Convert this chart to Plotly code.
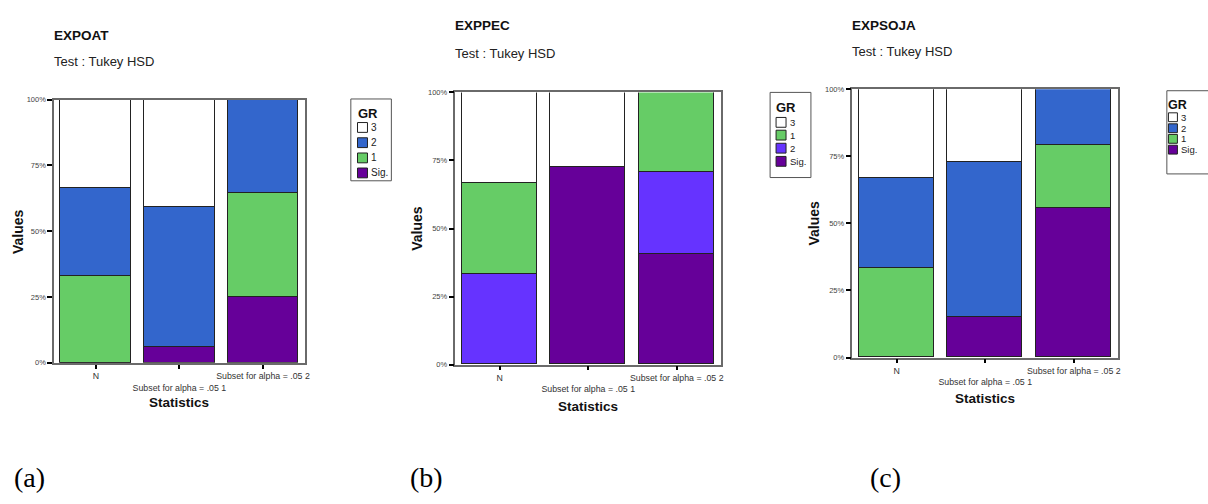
import plotly.graph_objects as go

# ---- data (percent of each bar) ----
categories = ["N", "Subset for alpha = .05 1", "Subset for alpha = .05 2"]
tick_text = ["N", "<br>Subset for alpha = .05 1", "Subset for alpha = .05 2"]

# EXPOAT (stack order bottom -> top: Sig., 1, 2, 3)
expoat_sig = [0.0, 6.1, 25.1]
expoat_g1 = [33.3, 0.0, 39.6]
expoat_g2 = [33.4, 53.3, 35.3]
expoat_g3 = [33.3, 40.6, 0.0]

# EXPPEC (stack order bottom -> top: Sig., 2, 1, 3)
exppec_sig = [0.0, 72.6, 40.5]
exppec_g2 = [33.3, 0.0, 30.3]
exppec_g1 = [33.4, 0.0, 29.2]
exppec_g3 = [33.3, 27.4, 0.0]

# EXPSOJA (stack order bottom -> top: Sig., 1, 2, 3)
expsoja_sig = [0.0, 15.0, 55.6]
expsoja_g1 = [33.3, 0.0, 23.4]
expsoja_g2 = [33.4, 57.8, 21.0]
expsoja_g3 = [33.3, 27.2, 0.0]

y_ticks = [0, 25, 50, 75, 100]
y_tick_text = ["0%", "25%", "50%", "75%", "100%"]

# ---- styling ----
W, H = 1208, 504
FONT = "Liberation Sans, Arial, Helvetica, sans-serif"
SERIF = "Liberation Serif, Times New Roman, serif"
C_WHITE = "#FFFFFF"
C_BLUE = "#3366CC"
C_GREEN = "#66CC66"
C_VIOLET = "#6633FF"
C_PURPLE = "#660099"
OUTLINE = "#222222"
BAR_W = 0.845


def fx(px):
    return px / W


def fy(py):
    return 1 - py / H


fig = go.Figure()

panels = [
    dict(ax="", title="EXPOAT", x0=54.3, x1=306, y0=97.3, y1=365.3,
         stack=[("Sig.", expoat_sig, C_PURPLE), ("1", expoat_g1, C_GREEN),
                ("2", expoat_g2, C_BLUE), ("3", expoat_g3, C_WHITE)],
         title_y=32.5, sub_y=58.5, vals_x=18, stat_y=406,
         legend=dict(box=(352.3, 96.7, 393, 180), gr_y=111, sq_x=359, sq=10,
                     rows=[125.7, 141.2, 156.7, 172], gr_size=13, lab_size=10)),
    dict(ax="2", title="EXPPEC", x0=457.3, x1=724, y0=90, y1=367.3,
         stack=[("Sig.", exppec_sig, C_PURPLE), ("2", exppec_g2, C_VIOLET),
                ("1", exppec_g1, C_GREEN), ("3", exppec_g3, C_WHITE)],
         title_y=22, sub_y=50, vals_x=418, stat_y=410,
         legend=dict(box=(773.3, 90, 814.3, 176.7), gr_y=105, sq_x=779.3, sq=10,
                     rows=[120.5, 133.5, 146.8, 160.2], gr_size=13, lab_size=9.5)),
    dict(ax="3", title="EXPSOJA", x0=856, x1=1122.7, y0=86.7, y1=360,
         stack=[("Sig.", expsoja_sig, C_PURPLE), ("1", expsoja_g1, C_GREEN),
                ("2", expsoja_g2, C_BLUE), ("3", expsoja_g3, C_WHITE)],
         title_y=22, sub_y=48.5, vals_x=817.5, stat_y=402,
         legend=dict(box=(1171.7, 88.3, 1215, 173), gr_y=103, sq_x=1173.3, sq=9,
                     rows=[115.3, 126.5, 137.3, 148.3], gr_size=12.5, lab_size=9.5)),
]

annotations = []
shapes = []

for p in panels:
    xa, ya = "x" + p["ax"], "y" + p["ax"]
    for name, vals, color in p["stack"]:
        fig.add_trace(go.Bar(
            x=categories, y=vals, name=name, width=BAR_W,
            marker=dict(color=color, line=dict(color=OUTLINE, width=1)),
            xaxis=xa, yaxis=ya, showlegend=False,
        ))

    axis_common = dict(
        showline=True, linecolor="#6a6a6a", linewidth=1.5, mirror=True,
        ticks="outside", tickcolor="#000000", tickwidth=2,
        showgrid=False, zeroline=False,
    )
    fig.layout["xaxis" + p["ax"]] = dict(
        axis_common, domain=[fx(p["x0"]), fx(p["x1"])], anchor=ya,
        type="category", range=[-0.5, 2.5],
        tickmode="array", tickvals=categories, ticktext=tick_text,
        tickangle=0, ticklen=4,
        tickfont=dict(family=FONT, size=8.8, color="#333333"),
    )
    fig.layout["yaxis" + p["ax"]] = dict(
        axis_common, domain=[fy(p["y1"]), fy(p["y0"])], anchor=xa,
        range=[0, 100], tickmode="array", tickvals=y_ticks,
        ticktext=y_tick_text, ticklen=5,
        tickfont=dict(family=FONT, size=7.5, color="#444444"),
    )

    # panel heading
    annotations.append(dict(
        text="<b>" + p["title"] + "</b>", x=fx(p["x0"] - 2), y=fy(p["title_y"]),
        xref="paper", yref="paper", xanchor="left", yanchor="middle",
        showarrow=False, font=dict(family=FONT, size=13.5, color="#111111"),
    ))
    annotations.append(dict(
        text="Test : Tukey HSD", x=fx(p["x0"] - 2), y=fy(p["sub_y"]),
        xref="paper", yref="paper", xanchor="left", yanchor="middle",
        showarrow=False, font=dict(family=FONT, size=13, color="#222222"),
    ))
    # axis titles
    annotations.append(dict(
        text="<b>Values</b>", x=fx(p["vals_x"]), y=fy((p["y0"] + p["y1"]) / 2),
        xref="paper", yref="paper", xanchor="center", yanchor="middle",
        textangle=-90, showarrow=False,
        font=dict(family=FONT, size=14, color="#111111"),
    ))
    annotations.append(dict(
        text="<b>Statistics</b>", x=fx((p["x0"] + p["x1"]) / 2), y=fy(p["stat_y"]),
        xref="paper", yref="paper", xanchor="center", yanchor="middle",
        showarrow=False, font=dict(family=FONT, size=13.5, color="#111111"),
    ))

    # legend box
    lg = p["legend"]
    bx0, by0, bx1, by1 = lg["box"]
    shapes.append(dict(type="rect", xref="paper", yref="paper",
                       x0=fx(bx0), x1=fx(bx1), y0=fy(by1), y1=fy(by0),
                       line=dict(color="#555555", width=1), fillcolor="white"))
    annotations.append(dict(
        text="<b>GR</b>", x=fx(lg["sq_x"] - 2), y=fy(lg["gr_y"]),
        xref="paper", yref="paper", xanchor="left", yanchor="middle",
        showarrow=False, font=dict(family=FONT, size=lg["gr_size"], color="#111111"),
    ))
    legend_items = list(reversed(p["stack"]))
    for (name, _, color), ry in zip(legend_items, lg["rows"]):
        s = lg["sq"]
        shapes.append(dict(type="rect", xref="paper", yref="paper",
                           x0=fx(lg["sq_x"]), x1=fx(lg["sq_x"] + s),
                           y0=fy(ry + s / 2), y1=fy(ry - s / 2),
                           line=dict(color="#222222", width=1), fillcolor=color))
        annotations.append(dict(
            text=name, x=fx(lg["sq_x"] + s + 1.5), y=fy(ry),
            xref="paper", yref="paper", xanchor="left", yanchor="middle",
            showarrow=False, font=dict(family=FONT, size=lg["lab_size"], color="#222222"),
        ))

# sub-figure captions
for label, cx in [("(a)", 30), ("(b)", 428), ("(c)", 889)]:
    annotations.append(dict(
        text=label, x=fx(cx), y=fy(482), xref="paper", yref="paper",
        xanchor="center", yanchor="middle", showarrow=False,
        font=dict(family=SERIF, size=28, color="#000000"),
    ))

fig.update_layout(
    width=W, height=H, margin=dict(l=0, r=0, t=0, b=0),
    paper_bgcolor="white", plot_bgcolor="white",
    barmode="stack", bargap=0, showlegend=False,
    annotations=annotations, shapes=shapes,
    font=dict(family=FONT),
)

fig.write_html("out.html")
